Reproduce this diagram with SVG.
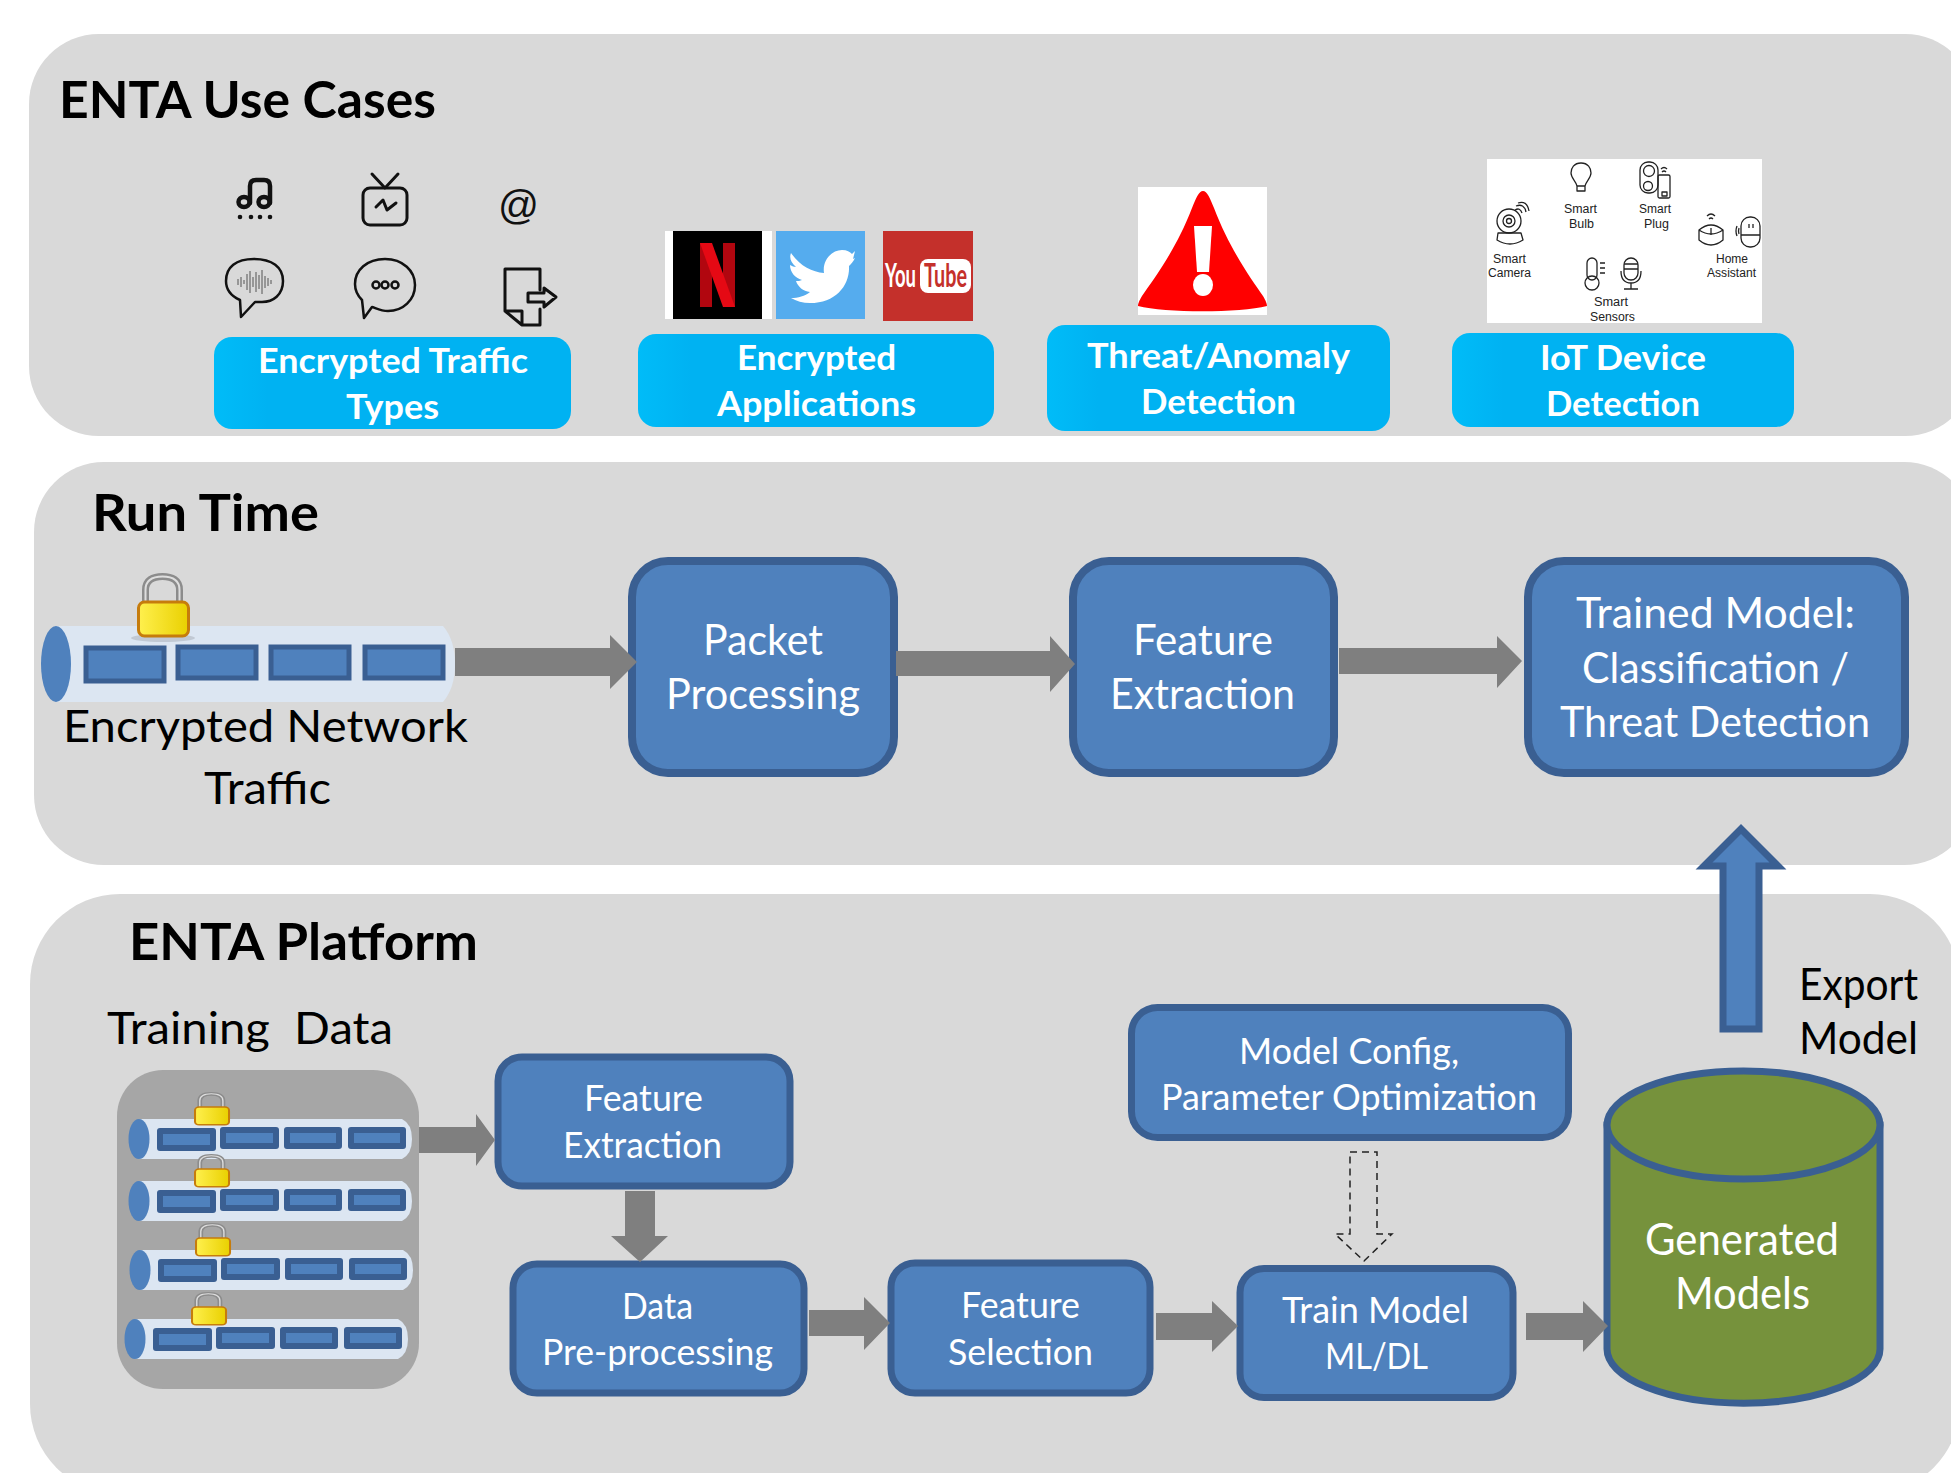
<svg xmlns="http://www.w3.org/2000/svg" width="1951" height="1473" viewBox="0 0 1951 1473">
<style>
text{font-family:"Lato","Noto Sans",sans-serif}
.panel{fill:#d9d9d9}
.pill{fill:url(#pillFill)}
.box{fill:#4f81bd;stroke:#3a5f92;stroke-width:8}
.sbox{fill:#4f81bd;stroke:#3a5f92;stroke-width:7}
.seg{fill:#4f81bd;stroke:#3a5f92;stroke-width:5}
.sseg{fill:#4f81bd;stroke:#3a5f92;stroke-width:6;stroke-linejoin:round}
.tube{fill:#dce6f2}
.end{fill:#4f81bd}
.ga{fill:#7f7f7f}
.h{font-weight:700;font-size:51px;fill:#000}
.pt{font-weight:700;font-size:35px;fill:#fff}
.wl{font-size:42px;fill:#fff}
.ws{font-size:37px;fill:#fff}
.bl{font-size:44px;fill:#000}
.wb{font-size:44px;fill:#fff}
.ico{fill:none;stroke:#111;stroke-width:3;stroke-linejoin:round;stroke-linecap:round}
.ico4{fill:none;stroke:#111;stroke-width:4.500;stroke-linejoin:round;stroke-linecap:round}
.ico2{fill:none;stroke:#111;stroke-width:2.500;stroke-linejoin:round;stroke-linecap:round}
.iot{fill:none;stroke:#222;stroke-width:1.300;stroke-linejoin:round}
.cap{font-family:"Liberation Sans",Arial,sans-serif;font-size:12.500px;fill:#222}
.yt{font-size:33px;font-weight:700}
</style>
<defs>
<linearGradient id="pillFill" x1="0" y1="0" x2="1" y2="0"><stop offset="0" stop-color="#00bcf8"/><stop offset=".15" stop-color="#00b2f2"/><stop offset="1" stop-color="#00b2f2"/></linearGradient>
<linearGradient id="lockFill" x1="0" y1="0" x2="1" y2="0"><stop offset="0" stop-color="#fff04e"/><stop offset="1" stop-color="#e9d000"/></linearGradient>
<g id="lock">
<path d="M8.500 31V17C8.500 7 16 3.500 25.500 3.500S42.500 7 42.500 17V31" fill="none" stroke="#8c8c8c" stroke-width="7"/>
<path d="M8.500 31V17C8.500 7 16 3.500 25.500 3.500S42.500 7 42.500 17V31" fill="none" stroke="#dedede" stroke-width="2"/>
<rect x="1.500" y="29" width="50" height="34" rx="6" fill="url(#lockFill)" stroke="#c67c0c" stroke-width="3"/>
</g>
<g id="stube">
<path class="tube" d="M139 1119H402Q412 1124 412 1139Q412 1154 402 1159H139Z"/>
<ellipse class="end" cx="139" cy="1139" rx="10.500" ry="20"/>
<rect class="sseg" x="160" y="1131" width="53" height="17"/>
<rect class="sseg" x="223" y="1130" width="53" height="16"/>
<rect class="sseg" x="287" y="1130" width="52" height="16"/>
<rect class="sseg" x="351" y="1130" width="52" height="16"/>
</g>
</defs>

<g id="panels">
<rect class="panel" x="29" y="34" width="1946" height="402" rx="70"/>
<rect class="panel" x="34" y="462" width="1940" height="403" rx="70"/>
<rect class="panel" x="30" y="894" width="1930" height="600" rx="90"/>
</g>

<g id="use-cases-title"><text class="h" x="59" y="118" textLength="377" lengthAdjust="spacingAndGlyphs">ENTA Use Cases</text></g>
<g id="run-time-title"><text class="h" x="92" y="531" textLength="227" lengthAdjust="spacingAndGlyphs">Run Time</text></g>
<g id="platform-title"><text class="h" x="129" y="960" textLength="349" lengthAdjust="spacingAndGlyphs">ENTA Platform</text></g>

<g id="traffic-icons">
<path class="ico4" d="M250 203V186Q250 180 256 180H264Q270 180 270 186V203"/>
<ellipse class="ico4" cx="244" cy="202" rx="5.500" ry="5"/><ellipse class="ico4" cx="264" cy="202" rx="5.500" ry="5"/>
<g fill="#111"><circle cx="240" cy="217" r="2.300"/><circle cx="251" cy="217" r="2.300"/><circle cx="260" cy="217" r="2.300"/><circle cx="270" cy="217" r="2.300"/></g>
<rect class="ico" x="363" y="188" width="44" height="37" rx="7"/>
<path class="ico" d="M372 174L385 188L398 174M376 207L383 200L387 210L396 203"/>
<text x="498" y="219" font-size="40" textLength="41" lengthAdjust="spacingAndGlyphs" style="font-family:'Liberation Sans',Arial,sans-serif" fill="#111">@</text>
<path class="ico2" d="M254 259C272 259 283 267 283 281C283 295 273 302 262 302L255 302L241 317L240 300C231 296 226 290 226 281C226 267 236 259 254 259Z"/>
<path fill="none" stroke="#555" stroke-width="1" d="M238 279v6M241 277v10M244 280v4M247 274v16M250 271v22M253 277v10M256 272v20M259 275v14M262 270v24M265 276v12M268 278v8M271 280v4"/>
<path class="ico2" d="M385 259C403 259 415 271 415 285C415 300 403 311 388 311C380 311 374 307 372 307L364 318L362 300C357 295 355 290 355 284C355 270 367 259 385 259Z"/>
<g class="ico2"><circle cx="376" cy="285" r="3.500"/><circle cx="385" cy="285" r="3.500"/><circle cx="395" cy="285" r="3.500"/></g>
<path class="ico" d="M540 290V269H505V311L522 325H540V309M505 311H522V325"/>
<path class="ico" d="M528 293H544V288L556 297L544 307V302H528Z"/>
</g>

<g id="app-logos">
<rect x="665" y="231" width="107" height="88" fill="#fff"/>
<rect x="673" y="231" width="89" height="88" fill="#000"/>
<path fill="#b1060f" d="M700 243H712V307H700ZM723 243H735V307H723Z"/>
<path fill="#e50914" d="M700 243H712L735 307H723Z"/>
<rect x="776" y="231" width="89" height="88" fill="#55acee"/>
<path fill="#fff" d="M791 253C800 266 812 272 824 273C822 260 832 250 842 250C847 250 850 252 852 254L855 251L853 259L855 258C853 262 851 264 849 266C850 285 836 303 810 303C803 303 796 301 791 298C798 298 805 296 810 292C803 291 798 287 796 281C798 281 800 281 802 280C795 278 790 272 790 265C792 266 794 267 796 267C791 263 789 258 791 253Z"/>
<rect x="883" y="231" width="90" height="90" fill="#c4302b"/>
<rect x="920" y="259" width="51" height="34" rx="8" fill="#fff"/>
<text class="yt" transform="translate(885 287) scale(.56 1)" fill="#fff">You</text>
<text class="yt" transform="translate(924 287) scale(.6 1)" fill="#c4302b">Tube</text>
</g>

<g id="alert-icon">
<rect x="1138" y="187" width="129" height="128" fill="#fff"/>
<path fill="#f00" d="M1203 191C1207 191 1210 198 1214 208C1230 250 1252 280 1263 296C1266 301 1267 304 1267 306C1240 313 1165 313 1138 306C1138 304 1139 301 1142 296C1153 280 1176 250 1192 208C1196 198 1199 191 1203 191Z"/>
<path fill="#fff" d="M1194 226H1212L1209 272H1197Z"/>
<ellipse cx="1203" cy="285" rx="10" ry="11" fill="#fff"/>
</g>

<g id="iot-panel">
<rect x="1487" y="159" width="275" height="164" fill="#fff"/>
<path class="iot" d="M1581 163C1574 163 1571 168 1571 173C1571 178 1576 181 1577 186H1585C1586 181 1591 178 1591 173C1591 168 1588 163 1581 163ZM1577 186V191H1585V186"/>
<rect class="iot" x="1640" y="162" width="18" height="31" rx="8"/><circle class="iot" cx="1649" cy="171" r="5.500"/><circle class="iot" cx="1648" cy="186" r="4.500"/>
<rect class="iot" x="1658" y="175" width="12" height="23" rx="1.500"/><path class="iot" d="M1661 169Q1664 166 1667 169M1662 172Q1664 170 1666 172M1662 192H1667V196H1662Z"/>
<circle class="iot" cx="1509" cy="221" r="12"/><circle class="iot" cx="1509" cy="221" r="6"/><circle class="iot" cx="1509" cy="221" r="2.500"/>
<path class="iot" d="M1498 233H1521L1523 240Q1510 248 1497 240ZM1515 210Q1520 207 1522 213M1516 206Q1524 203 1526 212M1518 203Q1527 200 1529 211"/>
<path class="iot" d="M1699 230Q1711 220 1723 230V240Q1711 250 1699 240ZM1699 230Q1711 238 1723 230M1711 228V235M1707 216Q1711 212 1715 216M1709 219Q1711 217 1713 219"/>
<rect class="iot" x="1741" y="217" width="19" height="30" rx="9"/><path class="iot" d="M1741 235H1760M1737 226Q1735 231 1737 236M1739 228Q1738 231 1739 234M1749 224V228M1753 224V228"/>
<rect class="iot" x="1587" y="258" width="10" height="22" rx="5"/><circle class="iot" cx="1592" cy="283" r="7"/><path class="iot" d="M1600 263H1605M1600 268H1605M1600 273H1605"/>
<rect class="iot" x="1624" y="258" width="14" height="22" rx="7"/><path class="iot" d="M1621 271Q1621 283 1631 283Q1641 283 1641 271M1631 283V289M1624 289H1638M1624 264H1638M1624 269H1638"/>
<text class="cap" x="1564" y="213" textLength="33" lengthAdjust="spacingAndGlyphs">Smart</text>
<text class="cap" x="1569" y="228" textLength="25" lengthAdjust="spacingAndGlyphs">Bulb</text>
<text class="cap" x="1639" y="213" textLength="32" lengthAdjust="spacingAndGlyphs">Smart</text>
<text class="cap" x="1644" y="228" textLength="25" lengthAdjust="spacingAndGlyphs">Plug</text>
<text class="cap" x="1493" y="263" textLength="33" lengthAdjust="spacingAndGlyphs">Smart</text>
<text class="cap" x="1488" y="277" textLength="43" lengthAdjust="spacingAndGlyphs">Camera</text>
<text class="cap" x="1716" y="263" textLength="32" lengthAdjust="spacingAndGlyphs">Home</text>
<text class="cap" x="1707" y="277" textLength="49" lengthAdjust="spacingAndGlyphs">Assistant</text>
<text class="cap" x="1594" y="306" textLength="34" lengthAdjust="spacingAndGlyphs">Smart</text>
<text class="cap" x="1590" y="321" textLength="45" lengthAdjust="spacingAndGlyphs">Sensors</text>
</g>

<g id="encrypted-traffic-types"><rect class="pill" x="214" y="337" width="357" height="92" rx="18"/>
<text class="pt" x="258" y="373" textLength="270" lengthAdjust="spacingAndGlyphs">Encrypted Traffic</text>
<text class="pt" x="346" y="419" textLength="93" lengthAdjust="spacingAndGlyphs">Types</text></g>
<g id="encrypted-applications"><rect class="pill" x="638" y="334" width="356" height="93" rx="18"/>
<text class="pt" x="737" y="370" textLength="159" lengthAdjust="spacingAndGlyphs">Encrypted</text>
<text class="pt" x="717" y="416" textLength="199" lengthAdjust="spacingAndGlyphs">Applications</text></g>
<g id="threat-detection"><rect class="pill" x="1047" y="325" width="343" height="106" rx="18"/>
<text class="pt" x="1087" y="368" textLength="263" lengthAdjust="spacingAndGlyphs">Threat/Anomaly</text>
<text class="pt" x="1141" y="414" textLength="155" lengthAdjust="spacingAndGlyphs">Detection</text></g>
<g id="iot-detection"><rect class="pill" x="1452" y="333" width="342" height="94" rx="18"/>
<text class="pt" x="1540" y="370" textLength="166" lengthAdjust="spacingAndGlyphs">IoT Device</text>
<text class="pt" x="1546" y="416" textLength="154" lengthAdjust="spacingAndGlyphs">Detection</text></g>

<g id="encrypted-network-traffic">
<path class="tube" d="M56 626H443Q455 640 455 664Q455 688 443 702H56Z"/>
<ellipse class="end" cx="56" cy="664" rx="15" ry="38"/>
<rect class="seg" x="86" y="648" width="78" height="33"/>
<rect class="seg" x="178" y="647" width="78" height="31"/>
<rect class="seg" x="271" y="647" width="78" height="31"/>
<rect class="seg" x="365" y="647" width="78" height="31"/>
<ellipse cx="163" cy="638" rx="32" ry="4" fill="#9fa6b0" opacity=".45"/>
<use href="#lock" transform="translate(137 573)"/>
<text class="bl" x="63" y="742" textLength="405" lengthAdjust="spacingAndGlyphs">Encrypted Network</text>
<text class="bl" x="204" y="804" textLength="127" lengthAdjust="spacingAndGlyphs">Traffic</text>
</g>

<g id="packet-processing"><rect class="box" x="632" y="561" width="262" height="212" rx="36"/>
<text class="wl" x="703" y="655" textLength="120" lengthAdjust="spacingAndGlyphs">Packet</text>
<text class="wl" x="666" y="709" textLength="194" lengthAdjust="spacingAndGlyphs">Processing</text></g>
<g id="feature-extraction-run"><rect class="box" x="1073" y="561" width="261" height="212" rx="36"/>
<text class="wl" x="1133" y="655" textLength="140" lengthAdjust="spacingAndGlyphs">Feature</text>
<text class="wl" x="1110" y="709" textLength="185" lengthAdjust="spacingAndGlyphs">Extraction</text></g>
<g id="trained-model"><rect class="box" x="1528" y="561" width="377" height="212" rx="36"/>
<text class="wl" x="1576" y="628" textLength="279" lengthAdjust="spacingAndGlyphs">Trained Model:</text>
<text class="wl" x="1582" y="683" textLength="267" lengthAdjust="spacingAndGlyphs">Classification /</text>
<text class="wl" x="1560" y="737" textLength="310" lengthAdjust="spacingAndGlyphs">Threat Detection</text></g>

<g id="training-data">
<text class="bl" x="107" y="1044" textLength="286" lengthAdjust="spacingAndGlyphs" style="white-space:pre">Training  Data</text>
<rect x="117" y="1070" width="302" height="319" rx="46" fill="#a6a6a6"/>
<use href="#stube"/><use href="#stube" y="62"/><use href="#stube" x="1" y="131"/><use href="#stube" x="-4" y="200"/>
<use href="#lock" transform="translate(194 1092) scale(.68 .52)"/>
<use href="#lock" transform="translate(194 1154) scale(.68 .52)"/>
<use href="#lock" transform="translate(195 1223) scale(.68 .52)"/>
<use href="#lock" transform="translate(191 1292) scale(.68 .52)"/>
</g>

<g id="feature-extraction-train"><rect class="sbox" x="498" y="1057" width="292" height="129" rx="24"/>
<text class="ws" x="584" y="1111" textLength="119" lengthAdjust="spacingAndGlyphs">Feature</text>
<text class="ws" x="563" y="1158" textLength="159" lengthAdjust="spacingAndGlyphs">Extraction</text></g>
<g id="data-preprocessing"><rect class="sbox" x="513" y="1264" width="291" height="129" rx="24"/>
<text class="ws" x="622" y="1319" textLength="71" lengthAdjust="spacingAndGlyphs">Data</text>
<text class="ws" x="542" y="1365" textLength="231" lengthAdjust="spacingAndGlyphs">Pre-processing</text></g>
<g id="feature-selection"><rect class="sbox" x="891" y="1263" width="259" height="130" rx="24"/>
<text class="ws" x="961" y="1318" textLength="119" lengthAdjust="spacingAndGlyphs">Feature</text>
<text class="ws" x="948" y="1365" textLength="145" lengthAdjust="spacingAndGlyphs">Selection</text></g>
<g id="model-config"><rect class="sbox" x="1131.500" y="1007.500" width="437" height="130" rx="26"/>
<text class="ws" x="1239" y="1064" textLength="220" lengthAdjust="spacingAndGlyphs">Model Config,</text>
<text class="ws" x="1161" y="1110" textLength="376" lengthAdjust="spacingAndGlyphs">Parameter Optimization</text></g>
<g id="train-model"><rect class="sbox" x="1240" y="1268.500" width="273" height="129" rx="24"/>
<text class="ws" x="1282" y="1323" textLength="187" lengthAdjust="spacingAndGlyphs">Train Model</text>
<text class="ws" x="1325" y="1369" textLength="103" lengthAdjust="spacingAndGlyphs">ML/DL</text></g>

<g id="generated-models">
<path d="M1607 1125V1349A136 54 0 0 0 1880 1349V1125Z" fill="#76923c" stroke="#3a5f92" stroke-width="7"/>
<ellipse cx="1743.500" cy="1125" rx="136.500" ry="54" fill="#76923c" stroke="#3a5f92" stroke-width="7"/>
<text class="wb" x="1645" y="1255" textLength="194" lengthAdjust="spacingAndGlyphs">Generated</text>
<text class="wb" x="1675" y="1309" textLength="135" lengthAdjust="spacingAndGlyphs">Models</text>
</g>

<g id="export-label">
<text class="bl" x="1799" y="1000" textLength="119" lengthAdjust="spacingAndGlyphs">Export</text>
<text class="bl" x="1799" y="1054" textLength="119" lengthAdjust="spacingAndGlyphs">Model</text>
</g>

<g id="connectors">
<path class="ga" d="M455 648H610V635L637 662L610 689V676H455Z"/>
<path class="ga" d="M896 651H1050V636L1075 664L1050 692V676H896Z"/>
<path class="ga" d="M1339 648H1497V636L1522 661L1497 688V674H1339Z"/>
<path class="ga" d="M419 1127H476V1114L495 1140L476 1166V1153H419Z"/>
<path class="ga" d="M625 1191H655V1236H668L640 1262L611 1236H625Z"/>
<path class="ga" d="M809 1310H864V1297L890 1323L864 1350V1336H809Z"/>
<path class="ga" d="M1156 1313H1212V1301L1238 1326L1212 1352V1340H1156Z"/>
<path class="ga" d="M1526 1313H1583V1301L1608 1326L1583 1352V1340H1526Z"/>
<path d="M1723 1029V866H1704L1741 829L1778 866H1759V1029Z" fill="#4f81bd" stroke="#3a5f92" stroke-width="7"/>
<path d="M1350 1152H1377V1234H1392L1364 1261L1335 1234H1350Z" fill="none" stroke="#222" stroke-width="1.500" stroke-dasharray="7 5"/>
</g>
</svg>
